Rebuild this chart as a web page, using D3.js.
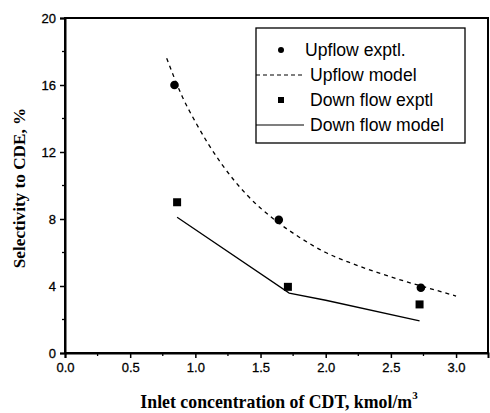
<!DOCTYPE html>
<html><head><meta charset="utf-8">
<script src="https://cdn.jsdelivr.net/npm/d3@7"></script>
<style>body{margin:0;background:#fff}svg{display:block}</style>
</head><body>
<svg id="c" width="490" height="413"></svg>
<script>
// Data
const upflowExpX = [0.84, 1.64, 2.73];
const upflowExpY = [16.0, 7.95, 3.9];
const downExpX = [0.86, 1.71, 2.72];
const downExpY = [9.0, 3.95, 2.9];
const upModelX = [0.78, 0.9, 1.0, 1.2, 1.4, 1.6, 1.8, 2.0, 2.2, 2.4, 2.6, 2.8, 3.0];
const upModelY = [17.6, 15.3, 13.8, 11.3, 9.4, 8.0, 6.9, 6.0, 5.35, 4.8, 4.3, 3.85, 3.4];
const downModelX = [0.86, 1.72, 2.0, 2.72];
const downModelY = [8.1, 3.58, 3.15, 1.92];
const xTicks = [0.0, 0.5, 1.0, 1.5, 2.0, 2.5, 3.0];
const yTicks = [0, 4, 8, 12, 16, 20];
const legendLabels = ["Upflow exptl.", "Upflow model", "Down flow exptl", "Down flow model"];

const svg = d3.select("#c");
const L = 65, R = 488, T = 18, B = 353;
const x = d3.scaleLinear().domain([0, 3.245]).range([L, R]);
const y = d3.scaleLinear().domain([0, 20]).range([B, T]);

// frame
svg.append("rect").attr("x", L).attr("y", T).attr("width", R - L).attr("height", B - T)
  .attr("fill", "none").attr("stroke", "#000").attr("stroke-width", 2);

// axes
const xAxis = d3.axisBottom(x).tickValues(xTicks).tickFormat(d3.format(".1f")).tickSize(5).tickPadding(5);
const gx = svg.append("g").attr("transform", `translate(0,${B})`).call(xAxis);
const yAxis = d3.axisLeft(y).tickValues(yTicks).tickFormat(d3.format("d")).tickSize(5).tickPadding(4);
const gy = svg.append("g").attr("transform", `translate(${L},0)`).call(yAxis);
[gx, gy].forEach(g => {
  g.select(".domain").attr("stroke-width", 2);
  g.selectAll(".tick line").attr("stroke-width", 1.5);
  g.selectAll(".tick text").attr("font-family", "Liberation Sans, Arial, sans-serif").attr("font-size", 13)
    .attr("fill", "#000").attr("stroke", "#000").attr("stroke-width", 0.3);
});
// minor ticks
const xMinor = d3.range(0.25, 3.2, 0.5);
svg.append("g").selectAll("line").data(xMinor).join("line")
  .attr("x1", d => x(d)).attr("x2", d => x(d)).attr("y1", B).attr("y2", B + 3)
  .attr("stroke", "#000").attr("stroke-width", 1.3);
const yMinor = [2, 6, 10, 14, 18];
svg.append("g").selectAll("line").data(yMinor).join("line")
  .attr("x1", L - 3).attr("x2", L).attr("y1", d => y(d)).attr("y2", d => y(d))
  .attr("stroke", "#000").attr("stroke-width", 1.3);

// model lines
const line = d3.line().x(d => x(d[0])).y(d => y(d[1])).curve(d3.curveMonotoneX);
svg.append("path").datum(upModelX.map((v, i) => [v, upModelY[i]]))
  .attr("d", line).attr("fill", "none").attr("stroke", "#000").attr("stroke-width", 1.3)
  .attr("stroke-dasharray", "4,4");
svg.append("path").datum(downModelX.map((v, i) => [v, downModelY[i]]))
  .attr("d", d3.line().x(d => x(d[0])).y(d => y(d[1])))
  .attr("fill", "none").attr("stroke", "#000").attr("stroke-width", 1.3);

// points
svg.append("g").selectAll("circle").data(upflowExpX.map((v, i) => [v, upflowExpY[i]])).join("circle")
  .attr("cx", d => x(d[0])).attr("cy", d => y(d[1])).attr("r", 4.3).attr("fill", "#000");
svg.append("g").selectAll("rect").data(downExpX.map((v, i) => [v, downExpY[i]])).join("rect")
  .attr("x", d => x(d[0]) - 4).attr("y", d => y(d[1]) - 4).attr("width", 8).attr("height", 8).attr("fill", "#000");

// legend
const lg = svg.append("g");
lg.append("rect").attr("x", 256).attr("y", 28).attr("width", 209).attr("height", 115)
  .attr("fill", "#fff").attr("stroke", "#000").attr("stroke-width", 1.3);
const rowY = [50, 75, 100, 125];
lg.append("circle").attr("cx", 281).attr("cy", rowY[0]).attr("r", 3).attr("fill", "#000");
lg.append("line").attr("x1", 256).attr("x2", 304).attr("y1", rowY[1]).attr("y2", rowY[1])
  .attr("stroke", "#000").attr("stroke-width", 1.2).attr("stroke-dasharray", "4,3");
lg.append("rect").attr("x", 278).attr("y", rowY[2] - 3).attr("width", 6).attr("height", 6).attr("fill", "#000");
lg.append("line").attr("x1", 256).attr("x2", 304).attr("y1", rowY[3]).attr("y2", rowY[3])
  .attr("stroke", "#000").attr("stroke-width", 1.2);
const textX = [305, 310, 310, 310];
lg.selectAll("text").data(legendLabels).join("text")
  .attr("x", (d, i) => textX[i]).attr("y", (d, i) => rowY[i] + 6)
  .attr("font-family", "Liberation Sans, Arial, sans-serif").attr("font-size", 17.6)
  .attr("fill", "#000").text(d => d);

// axis titles
const xt = svg.append("text").attr("x", 279).attr("y", 408).attr("text-anchor", "middle")
  .attr("font-family", "Liberation Serif, Times New Roman, serif").attr("font-weight", "bold")
  .attr("font-size", 17.8).attr("fill", "#000");
xt.append("tspan").text("Inlet concentration of CDT, kmol/m");
xt.append("tspan").attr("font-size", 11).attr("dy", -9).text("3");
svg.append("text").attr("transform", "translate(25,188) rotate(-90)").attr("text-anchor", "middle")
  .attr("font-family", "Liberation Serif, Times New Roman, serif").attr("font-weight", "bold")
  .attr("font-size", 17.2).attr("fill", "#000").text("Selectivity to CDE, %");
</script>
</body></html>
